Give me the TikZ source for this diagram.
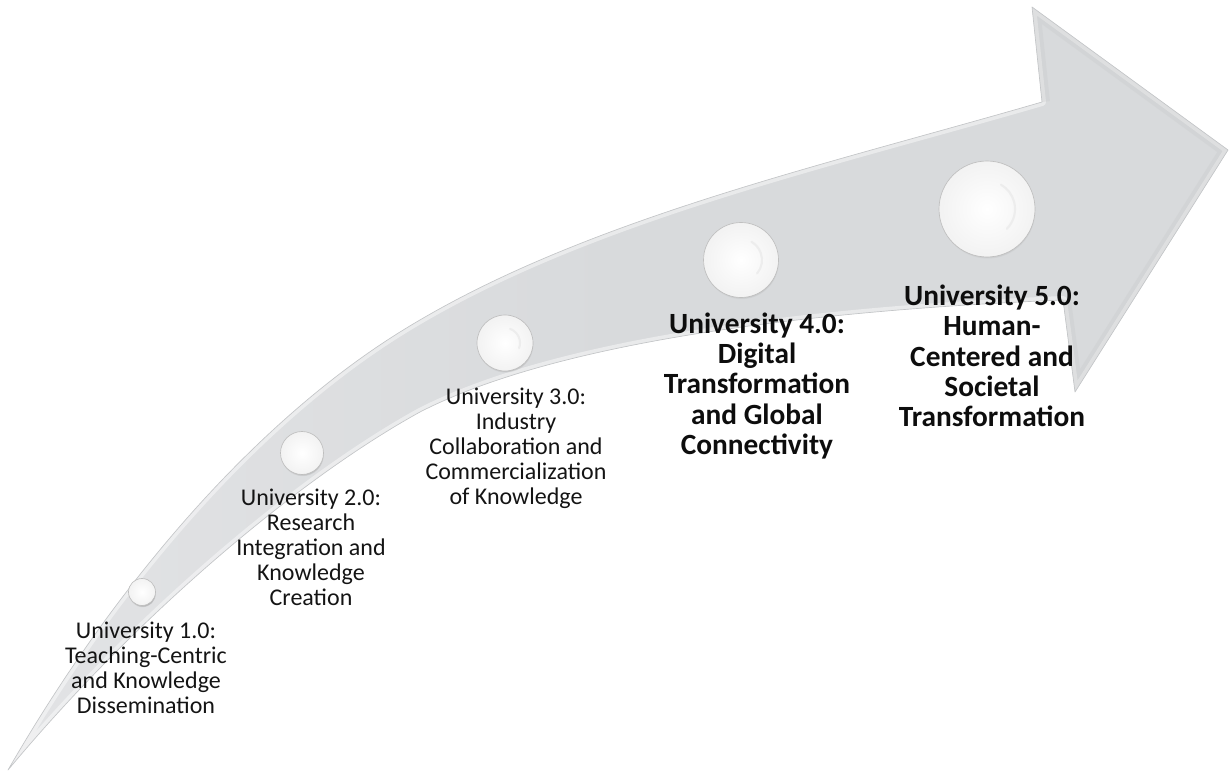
\documentclass[tikz,border=0pt]{standalone}
\usepackage{fontspec}
\setmainfont{Carlito}
\usetikzlibrary{shadows}
\begin{document}
\begin{tikzpicture}[x=0.75pt,y=-0.75pt]
\definecolor{arrowgray}{RGB}{216,218,220}
\definecolor{arrowlight}{RGB}{226,227,229}
\definecolor{rimgray}{RGB}{196,198,200}
\tikzset{
  ball/.style={circle, inner sep=0pt, draw=gray!50, line width=0.5pt,
    inner color=white, outer color=gray!10,
    circular drop shadow={shadow xshift=0.3pt, shadow yshift=-1.3pt, opacity=0.5, shadow scale=1.0}},
  shine/.style={gray!30, opacity=0.35, line width=1.6pt, line cap=round},
  lab/.style={align=center, inner sep=0pt, text=black!92,
    font=\fontsize{18}{18.8}\selectfont},
  labbold/.style={align=center, inner sep=0pt, text=black!95,
    font=\fontsize{22}{22.8}\selectfont\bfseries}
}
\useasboundingbox (0,0) rectangle (1231,773);
\def\arrowpath{(8,770) .. controls (128,562) and (270,413) .. (400,332)
  .. controls (580,220) and (822,166) .. (1042,102)
  -- (1032,7) -- (1228,150) -- (1075,392) -- (1063,300)
  .. controls (820,310) and (560,340) .. (420,412)
  .. controls (300,478) and (138,614) .. (8,770) -- cycle}
% arrow body
\shade[left color=arrowlight, right color=arrowgray, middle color=arrowgray] \arrowpath;
\begin{scope}
  \clip \arrowpath;
  \draw[white, opacity=0.45, line width=6pt, line join=round] \arrowpath;
  \draw[arrowgray!80!gray, opacity=0.3, line width=12pt, line join=round] (1042,102) -- (1032,7) -- (1228,150) -- (1075,392) -- (1063,300);
\end{scope}
\draw[rimgray, line width=0.5pt, line join=round] \arrowpath;
% spheres
\node[ball, minimum size=20.25pt] (s1) at (142,592) {};
\node[ball, minimum size=32.25pt] (s2) at (302,453) {};
\node[ball, minimum size=42pt] (s3) at (505,343) {};
\node[ball, minimum size=56.25pt] (s4) at (741,260) {};
\node[ball, minimum size=72pt] (s5) at (987,209) {};
\draw[shine] (s3.center) ++(20:15) arc (20:-70:15);
\draw[shine] (s4.center) ++(40:21) arc (40:-60:21);
\draw[shine] (s5.center) ++(45:28) arc (45:-60:28);
% labels
\node[lab] (l1) at (146,668) {University 1.0:\\Teaching-Centric\\and Knowledge\\Dissemination};
\node[lab] (l2) at (311,547) {University 2.0:\\Research\\Integration and\\Knowledge\\Creation};
\node[lab] (l3) at (516,448) {University 3.0:\\Industry\\Collaboration and\\Commercialization\\of Knowledge};
\node[labbold] (l4) at (757,386) {University 4.0:\\Digital\\Transformation\\and Global\\Connectivity};
\node[labbold] (l5) at (992,356) {University 5.0:\\Human-\\Centered and\\Societal\\Transformation};
\end{tikzpicture}
\end{document}
